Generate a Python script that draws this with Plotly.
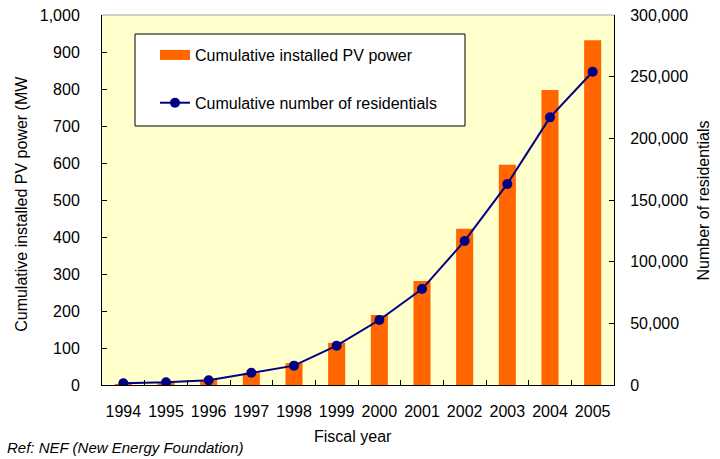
import plotly.graph_objects as go

years = ["1994", "1995", "1996", "1997", "1998", "1999", "2000", "2001", "2002", "2003", "2004", "2005"]
pv_power_mw = [2, 6, 13, 32, 59, 114, 189, 281, 422, 595, 797, 932]
residentials = [1400, 2200, 3800, 10000, 15700, 31900, 52700, 77800, 116800, 163000, 217000, 254000]

FONT = "Liberation Sans, Arial, sans-serif"
FS = 16
ORANGE = "#FF6600"
NAVY = "#000080"

fig = go.Figure()
fig.add_trace(go.Bar(
    x=years, y=pv_power_mw, name="Cumulative installed PV power",
    marker=dict(color=ORANGE, line=dict(width=0)),
    showlegend=False, yaxis="y",
))
# legend-only entry drawn as a wide orange block, like the original key
fig.add_trace(go.Scatter(
    x=[None], y=[None], name="Cumulative installed PV power",
    mode="lines", line=dict(color=ORANGE, width=10),
    legendgroup="a", yaxis="y",
))
fig.add_trace(go.Scatter(
    x=years, y=residentials, name="Cumulative number of residentials",
    mode="lines+markers", line=dict(color=NAVY, width=2),
    marker=dict(color=NAVY, size=10),
    legendgroup="b", yaxis="y2",
))

fig.update_layout(
    width=720, height=459,
    margin=dict(l=102, r=106, t=15, b=74, autoexpand=False),
    paper_bgcolor="white", plot_bgcolor="#FFFFCC",
    font=dict(family=FONT, size=FS, color="black"),
    bargap=0.6,
    showlegend=True,
    legend=dict(
        x=0.1035, y=0.9378, xanchor="left", yanchor="top",
        bgcolor="rgba(0,0,0,0)", borderwidth=0,
        font=dict(size=FS), traceorder="grouped", tracegroupgap=24,
        itemwidth=30,
    ),
    xaxis=dict(
        range=[-0.5, 11.5],
        showline=True, linecolor="black", linewidth=1,
        ticks="inside", ticklen=5, tickcolor="black", tickson="boundaries",
        showgrid=False, ticklabelstandoff=12, tickangle=0, automargin=False,
        tickfont=dict(size=FS),
    ),
    yaxis=dict(
        range=[0, 1000], dtick=100, tickformat=",",
        showline=True, linecolor="black", linewidth=1,
        ticks="inside", ticklen=5, tickcolor="black",
        showgrid=False, zeroline=False, ticklabelstandoff=18, automargin=False,
        tickfont=dict(size=FS),
    ),
    yaxis2=dict(
        range=[0, 300000], dtick=50000, tickformat=",",
        overlaying="y", side="right",
        showline=True, linecolor="black", linewidth=1,
        ticks="inside", ticklen=5, tickcolor="black",
        showgrid=False, zeroline=False, ticklabelstandoff=12, automargin=False,
        tickfont=dict(size=FS),
    ),
    shapes=[
        dict(type="line", xref="paper", yref="paper", x0=0, x1=1, y0=1, y1=1,
             line=dict(color="#A0A0A0", width=1)),
        dict(type="rect", xref="paper", yref="paper",
             x0=(135 - 102) / 512, x1=(465 - 102) / 512,
             y0=(385 - 126) / 370, y1=(385 - 34) / 370,
             fillcolor="white", line=dict(color="black", width=1), layer="above"),
    ],
    annotations=[
        dict(text="Cumulative installed PV power (MW", xref="paper", yref="paper",
             x=-0.156, y=0.49, xanchor="center", yanchor="middle",
             textangle=-90, showarrow=False, font=dict(size=FS)),
        dict(text="Number of residentials", xref="paper", yref="paper",
             x=1.1748, y=0.50, xanchor="center", yanchor="middle",
             textangle=-90, showarrow=False, font=dict(size=FS)),
        dict(text="Fiscal year", xref="paper", yref="paper",
             x=0.49, y=-0.1405, xanchor="center", yanchor="middle",
             showarrow=False, font=dict(size=FS)),
        dict(text="<i>Ref: NEF (New Energy Foundation)</i>", xref="paper", yref="paper",
             x=-0.189, y=-0.170, xanchor="left", yanchor="middle",
             showarrow=False, font=dict(size=15)),
    ],
)

fig.write_html("out.html", config={"displayModeBar": False},
               post_script="document.body.style.margin='0';")
